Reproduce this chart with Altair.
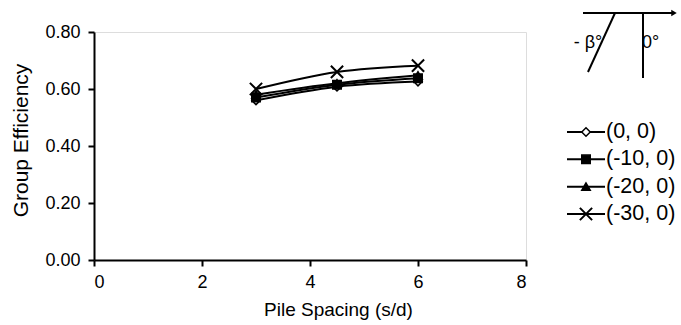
import altair as alt
import pandas as pd

spacing = [3, 4.5, 6]
series = ["(0, 0)", "(-10, 0)", "(-20, 0)", "(-30, 0)"]
eff_0 = [0.56, 0.608, 0.626]
eff_10 = [0.57, 0.615, 0.638]
eff_20 = [0.58, 0.62, 0.648]
eff_30 = [0.60, 0.66, 0.682]

FONT = "Liberation Sans"
X_PATH = "M-1,-1L1,1M-1,1L1,-1"

solid_series = series[:3]
cross_series = series[3]
shape_range = ["diamond", "square", "triangle-up"]
fill_range = ["white", "black", "black"]

rows = []
for name, vals in zip(series, [eff_0, eff_10, eff_20, eff_30]):
    for s, v in zip(spacing, vals):
        rows.append({"series": name, "spacing": s, "eff": v})
df = pd.DataFrame(rows)

axis_style = dict(grid=False, domainColor="black", domainWidth=2, tickColor="black",
                  tickWidth=2, tickSize=6, labelColor="black", titleColor="black",
                  labelFont=FONT, titleFont=FONT, titleFontWeight="normal")

x_enc = alt.X("spacing:Q", scale=alt.Scale(domain=[0, 8], nice=False),
              axis=alt.Axis(values=[0, 2, 4, 6, 8], title="Pile Spacing (s/d)",
                            labelFontSize=18, titleFontSize=19, titlePadding=9,
                            labelPadding=7, titleX=244, titleAnchor="start", titleAlign="center",
                            **axis_style))
y_enc = alt.Y("eff:Q", scale=alt.Scale(domain=[0, 0.8], nice=False),
              axis=alt.Axis(values=[0, 0.2, 0.4, 0.6, 0.8], format=".2f",
                            title="Group Efficiency", labelFontSize=18,
                            titleFontSize=21, titlePadding=13, labelPadding=8,
                            titleY=108, titleAnchor="start", titleAlign="center",
                            **axis_style))

base = alt.Chart(df)
lines = base.mark_line(color="black", strokeWidth=2, interpolate="monotone").encode(
    x=x_enc, y=y_enc, detail="series:N")

pts_solid = base.transform_filter(
    alt.FieldOneOfPredicate(field="series", oneOf=solid_series)
).mark_point(stroke="black", strokeWidth=1.5, opacity=1, size=72).encode(
    x="spacing:Q", y="eff:Q",
    shape=alt.Shape("series:N", scale=alt.Scale(domain=solid_series, range=shape_range), legend=None),
    fill=alt.Fill("series:N", scale=alt.Scale(domain=solid_series, range=fill_range), legend=None),
)
pts_cross = base.transform_filter(
    alt.FieldEqualPredicate(field="series", equal=cross_series)
).mark_point(shape=X_PATH, stroke="black", strokeWidth=2, opacity=1, size=150).encode(
    x="spacing:Q", y="eff:Q")

main = alt.layer(lines, pts_solid, pts_cross)

# custom legend
leg_df = pd.DataFrame({"series": series})
leg_y = alt.Y("series:N", scale=alt.Scale(type="point", domain=series, range=[100, 182], padding=0), axis=None)
leg_base = alt.Chart(leg_df)
leg_lines = leg_base.mark_rule(color="black", strokeWidth=2).encode(
    x=alt.value(473), x2=alt.value(511), y=leg_y)
leg_pts = leg_base.transform_filter(
    alt.FieldOneOfPredicate(field="series", oneOf=solid_series)
).mark_point(stroke="black", strokeWidth=1.5, opacity=1, size=72).encode(
    x=alt.value(492), y=leg_y,
    shape=alt.Shape("series:N", scale=alt.Scale(domain=solid_series, range=shape_range), legend=None),
    fill=alt.Fill("series:N", scale=alt.Scale(domain=solid_series, range=fill_range), legend=None),
)
leg_cross = leg_base.transform_filter(
    alt.FieldEqualPredicate(field="series", equal=cross_series)
).mark_point(shape=X_PATH, stroke="black", strokeWidth=2, opacity=1, size=150).encode(
    x=alt.value(492), y=leg_y)
leg_text = leg_base.mark_text(align="left", baseline="middle", font=FONT, fontSize=21.5, color="black").encode(
    x=alt.value(512), y=leg_y, text="series:N")
legend = alt.layer(leg_lines, leg_pts, leg_cross, leg_text)

# inset diagram
one = pd.DataFrame({"k": [0]})
d_h = alt.Chart(one).mark_rule(color="black", strokeWidth=2).encode(
    x=alt.value(489), x2=alt.value(578), y=alt.value(-19), y2=alt.value(-19))
d_arrow = alt.Chart(one).mark_point(shape="triangle-right", filled=True, color="black", size=40, opacity=1).encode(
    x=alt.value(580), y=alt.value(-19))
d_slant = alt.Chart(one).mark_rule(color="black", strokeWidth=2).encode(
    x=alt.value(521), x2=alt.value(494), y=alt.value(-19), y2=alt.value(40))
d_vert = alt.Chart(one).mark_rule(color="black", strokeWidth=2).encode(
    x=alt.value(549), x2=alt.value(549), y=alt.value(-19), y2=alt.value(46))
d_t1 = alt.Chart(one).mark_text(text="- β°", align="center", baseline="middle", font=FONT, fontSize=18, color="black").encode(
    x=alt.value(494), y=alt.value(11))
d_t2 = alt.Chart(one).mark_text(text="0°", align="left", baseline="middle", font=FONT, fontSize=18, color="black").encode(
    x=alt.value(548), y=alt.value(11))
diagram = alt.layer(d_h, d_arrow, d_slant, d_vert, d_t1, d_t2)

chart = alt.layer(main, legend, diagram).resolve_scale(
    y="independent", shape="independent", fill="independent"
).properties(
    width=432, height=228,
    autosize=alt.AutoSizeParams(type="none"),
    padding={"left": 94, "top": 32, "right": 155, "bottom": 65},
).configure_view(stroke=None).configure(background="white")

chart.save("out.html", embed_options={"renderer": "svg", "actions": False})
